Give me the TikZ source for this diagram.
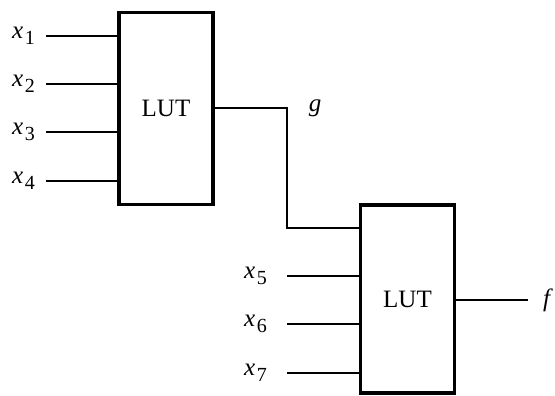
\documentclass[tikz,border=0pt]{standalone}
\usepackage{fontspec}
\setmainfont{Liberation Serif}
\newcommand{\sx}[1]{\textit{x}\kern1.5pt\raisebox{-0.55ex}{\fontsize{20}{20}\selectfont #1}}
\begin{document}
\begin{tikzpicture}[x=1pt,y=-1pt,
  lut/.style={draw,line width=3.8pt,minimum width=94pt,inner sep=0pt,font=\fontsize{25}{27}\selectfont},
  wire/.style={line width=1.5pt},
  lbl/.style={inner sep=0pt,font=\fontsize{25}{27}\selectfont}]
\useasboundingbox (0,0) rectangle (555,396);
\node[lut,minimum height=192pt] (L1) at (166,108.5) {LUT};
\node[lut,minimum height=188pt] (L2) at (407.5,299) {LUT};
% inputs of L1
\foreach \i/\y in {1/36,2/84,3/132,4/181}{
  \coordinate (a\i) at (46,\y);
  \node[lbl,anchor=east] (lx\i) at (35,\y) {\sx{\i}};
  \draw[wire] (a\i) -- (a\i -| L1.west);
}
% inputs of L2
\foreach \i/\y in {5/276,6/324,7/373}{
  \coordinate (b\i) at (287,\y);
  \node[lbl,anchor=east] (lx\i) at (267,\y) {\sx{\i}};
  \draw[wire] (b\i) -- (b\i -| L2.west);
}
% g connection
\coordinate (bend1) at (287,108);
\coordinate (bend2) at (287,228);
\draw[wire] (L1.east |- bend1) -- (bend1) -- (bend2) -- (bend2 -| L2.west);
\node[lbl] (g) at (315,108) {\textit{g}};
% output f
\coordinate (fo) at (528,300);
\draw[wire] (L2.east |- fo) -- (fo);
\node[lbl,anchor=west] (f) at (543,300) {\textit{f}};
\end{tikzpicture}
\end{document}
